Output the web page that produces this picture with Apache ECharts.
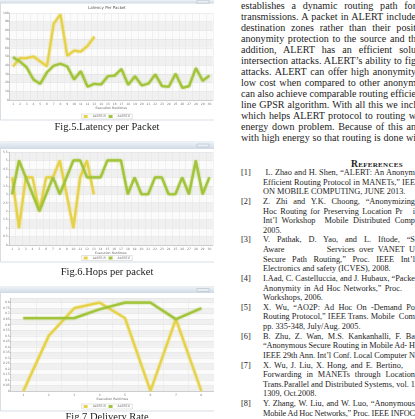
<!DOCTYPE html>
<html>
<head>
<meta charset="utf-8">
<script src="https://cdn.jsdelivr.net/npm/echarts@6/dist/echarts.min.js"></script>
<style>
  body { margin: 0; width: 415px; height: 419px; overflow: hidden; position: relative; background: #fff;
         font-family: 'Liberation Serif', 'DejaVu Serif', serif; color: #1c1c1c; }
  #figs { position: absolute; left: 0; top: 0; width: 214px; height: 419px; }
  .para { position: absolute; left: 241px; top: 0; width: 200px; font-size: 10.1px; line-height: 11px; }
  .para div { height: 11px; white-space: nowrap; }
  .head { position: absolute; left: 351px; top: 158px; width: 75px; font-size: 9.6px; font-weight: bold;
          font-variant: small-caps; letter-spacing: 0.3px; }
  .refs { position: absolute; left: 241px; top: 168px; width: 200px; font-size: 8.3px; line-height: 9.64px; }
  .refs div { position: relative; height: 9.64px; }
  .refs .n { position: absolute; left: 0; top: 0; }
  .refs .t { position: absolute; left: 22px; top: 0; white-space: nowrap; }
  span.fit { display: inline-block; white-space: nowrap; }
</style>
</head>
<body>
<div id="figs"></div>
<div class="para" id="para"></div>
<div class="head">References</div>
<div class="refs" id="refs"></div>
<script>
// run numbers on the x axes
const runsA = ['1','2','3','4','5','6','7','8','9','10','11','12','13','14','15','16','17','18','19','20','21','22','23','24','25','26','27','28','29','30'];
const runsB = ['1','2','3','4','5','6','7','8'];

// Fig.5 latency per packet
const latencyR = [38.6, 48.1, 48.1, 50, 44.3, 38.6, 87.9, 98.5, 50.8, 56.8, 55.7, 62.1, 72.7];
const latencyE = [49.2, 44.3, 37.5, 23.5, 18.6, 31.8, 39.4, 41.7, 38.6, 23.5, 33, 15.2, 18.6, 17.8, 27.3,
                  28, 35.6, 17.4, 27.3, 16.7, 18.9, 29.5, 15.9, 15.2, 30.3, 14, 15.9, 36.7, 22, 28];

// Fig.6 hops per packet
const hopsR = [4, 1, 4, 4, 2, 4, 4, 5, 3, 1, 4, 5, 3];
const hopsE = [3, 5, 4, 3, 2, 3, 4, 3, 4, 5, 5, 4, 4, 4, 5, 5, 5, 3, 4, 3, 3, 4, 4, 3, 3, 4, 3, 5, 3, 4];

// Fig.7 delivery rate
const deliveryR = [0, 0.5, 0.75, 0.8, 0.66, 0, 0.65, 0];
const deliveryE = [0.66, 0.66, 0.66, 0.74, 0.8, 0.8, 0.65, 0.75];

const seriesNames = ['ALERT-R', 'ALERT-E'];
const titles = ['Latency Per Packet'];
const captions = ['Fig.5.Latency per Packet', 'Fig.6.Hops per packet', 'Fig.7 Delivery Rate'];

// visible part of each text line (column is cut at the page edge)
const paraLines = [
  'establishes a dynamic routing path for',
  'transmissions. A packet in ALERT include',
  'destination zones rather than their posit',
  'anonymity protection to the source and th',
  'addition, ALERT has an efficient solu',
  'intersection attacks. ALERT\u2019s ability to fig',
  'attacks. ALERT can offer high anonymity',
  'low cost when compared to other anonym',
  'can also achieve comparable routing efficie',
  'line GPSR algorithm. With all this we incl',
  'which helps ALERT protocol to routing w',
  'energy down problem. Because of this an',
  'with high energy so that routing is done wi'
];
// [number, text, width to stretch to (0 = natural)]
const refLines = [
  ['[1]', '\u00a0L. Zhao and H. Shen, \u201cALERT: An Anonym', 152],
  ['', 'Efficient Routing Protocol in MANETs,\u201d IEE', 152],
  ['', 'ON MOBILE COMPUTING, JUNE 2013.', 0],
  ['[2]', 'Z. Zhi and Y.K. Choong, \u201cAnonymizing', 152],
  ['', 'Hoc Routing for Preserving Location Pr\u00a0\u00a0 i', 152],
  ['', 'Int\u2019l Workshop\u00a0 Mobile Distributed Comp', 152],
  ['', '2005.', 0],
  ['[3]', 'V. Pathak, D. Yao, and L. Iftode, \u201cS', 152],
  ['', 'Aware\u00a0\u00a0\u00a0\u00a0\u00a0\u00a0\u00a0\u00a0\u00a0 Services over VANET U', 152],
  ['', 'Secure Path Routing,\u201d Proc. IEEE Int\u2019l', 152],
  ['', 'Electronics and safety (ICVES), 2008.', 0],
  ['[4]', 'I.Aad, C. Castelluccia, and J. Hubaux, \u201cPacke', 152],
  ['', 'Anonymity in Ad Hoc Networks,\u201d Proc.', 139],
  ['', 'Workshops, 2006.', 0],
  ['[5]', 'X. Wu, \u201cAO2P: Ad Hoc On -Demand Po', 152],
  ['', 'Routing Protocol,\u201d IEEE Trans. Mobile\u00a0 Com', 152],
  ['', 'pp. 335-348, July/Aug. 2005.', 0],
  ['[6]', 'B. Zhu, Z. Wan, M.S. Kankanhalli, F. Ba', 152],
  ['', '\u201cAnonymous Secure Routing in Mobile Ad- H', 152],
  ['', 'IEEE 29th Ann. Int\u2019l Conf. Local Computer N', 152],
  ['[7]', 'X. Wu, J. Liu, X. Hong, and E. Bertino,', 140],
  ['', 'Forwarding in MANETs through Location', 152],
  ['', 'Trans.Parallel and Distributed Systems, vol. 1', 152],
  ['', '1309, Oct.2008.', 0],
  ['[8]', 'Y. Zhang, W. Liu, and W. Luo, \u201cAnonymous', 152],
  ['', 'Mobile Ad Hoc Networks,\u201d Proc. IEEE INFOC', 152]
];

document.getElementById('para').innerHTML =
  paraLines.map(t => '<div><span class="fit" data-w="175">' + t + '</span></div>').join('');
document.getElementById('refs').innerHTML = refLines.map(r =>
  '<div><span class="n">' + r[0] + '</span><span class="t"><span class="fit" data-w="' + r[2] + '">' +
  r[1] + '</span></span></div>').join('');

// spread (or tighten) each justified line to the width it has in the scan
document.querySelectorAll('span.fit').forEach(function (s) {
  const target = +s.getAttribute('data-w');
  if (!target) return;
  const text = s.textContent;
  const gaps = (text.match(/[ \u00a0]/g) || []).length;
  const extra = target - s.getBoundingClientRect().width;
  if (extra >= 0 && gaps) {
    s.style.wordSpacing = (extra / gaps) + 'px';
  } else if (extra < 0) {
    s.style.letterSpacing = (extra / text.length) + 'px';
  }
});

const YEL = '#e6d24a';
const GRN = '#a2c43a';
const tiny = { fontSize: 3, color: '#777', fontFamily: 'DejaVu Sans' };

function xAxis(i, data) {
  return {
    type: 'category', gridIndex: i, data: data, boundaryGap: true,
    name: 'Execution Runtimes', nameLocation: 'middle', nameGap: 7,
    nameTextStyle: { fontSize: 3.2, color: '#666', fontFamily: 'DejaVu Sans' },
    axisLine: { lineStyle: { color: '#aaa', width: 0.5 } },
    axisTick: { alignWithLabel: true, length: 1.5, lineStyle: { color: '#aaa', width: 0.5 } },
    axisLabel: Object.assign({ margin: 2.5, interval: 0 }, tiny),
    splitLine: { show: true, interval: 0, lineStyle: { color: '#e4e4e4', width: 0.5 } }
  };
}
function yAxis(i, max, interval) {
  return {
    type: 'value', gridIndex: i, min: 0, max: max, interval: interval,
    axisLine: { show: true, lineStyle: { color: '#aaa', width: 0.5 } },
    axisTick: { show: true, length: 1, lineStyle: { color: '#aaa', width: 0.5 } },
    axisLabel: Object.assign({ margin: 1, showMaxLabel: i !== 2 }, tiny),
    splitLine: { lineStyle: { color: '#dedede', width: 0.5 } },
    splitArea: { show: true, areaStyle: { color: ['#f0f0f0', '#fbfbfb'] } }
  };
}
function line(name, i, data, color) {
  return {
    type: 'line', name: name, xAxisIndex: i, yAxisIndex: i, data: data,
    showSymbol: false, symbol: 'none', smooth: false,
    lineStyle: { color: color, width: 2.2, shadowColor: color, shadowBlur: 2 },
    itemStyle: { color: color }
  };
}
function legend(top) {
  return {
    top: top, left: 'center', data: seriesNames, icon: 'rect', itemWidth: 4, itemHeight: 3,
    itemGap: 3, padding: [1, 2], borderColor: '#c8c8c8', borderWidth: 0.5,
    textStyle: { fontSize: 3.2, color: '#666', fontFamily: 'DejaVu Sans' }
  };
}
function bar(y, h) {
  return [
    { type: 'rect', shape: { x: 0, y: y, width: 214, height: h },
      style: { fill: new echarts.graphic.LinearGradient(0, 0, 0, 1, [
        { offset: 0, color: '#eef2f7' }, { offset: 1, color: '#cfd9e4' }]) } },
    { type: 'rect', shape: { x: 197, y: y + h / 2 - 1.5, width: 12, height: 3 },
      style: { fill: '#e8edf2', stroke: '#9aa8b6', lineWidth: 0.4 } }
  ];
}
function caption(text, y) {
  return { type: 'text', style: { text: text, x: 107, y: y, align: 'center', verticalAlign: 'middle',
    fontSize: 10.5, fontFamily: 'Liberation Serif', fill: '#1c1c1c' } };
}
function frame(y, h) {
  return { type: 'rect', shape: { x: 0.5, y: y, width: 220, height: h },
    style: { fill: 'none', stroke: '#cdd5de', lineWidth: 0.8 } };
}

const chart = echarts.init(document.getElementById('figs'));
chart.setOption({
  animation: false,
  backgroundColor: '#fff',
  grid: [
    { left: 3.6, top: 13, width: 223, height: 87 },
    { left: 3.6, top: 152, width: 223, height: 93 },
    { left: 6.75, top: 298, width: 212, height: 93 }
  ],
  xAxis: [xAxis(0, runsA), xAxis(1, runsA), xAxis(2, runsB)],
  yAxis: [yAxis(0, 100, 10), yAxis(1, 5.5, 0.5), yAxis(2, 0.842, 0.05)],
  legend: [legend(114), legend(255.5), legend(404)],
  series: [
    line(seriesNames[0], 0, latencyR, YEL), line(seriesNames[1], 0, latencyE, GRN),
    line(seriesNames[0], 1, hopsR, YEL), line(seriesNames[1], 1, hopsE, GRN),
    line(seriesNames[0], 2, deliveryR, YEL), line(seriesNames[1], 2, deliveryE, GRN)
  ],
  graphic: [].concat(
    frame(-1, 121), frame(142, 120), frame(287, 124),
    bar(0, 3.5), bar(142, 7), bar(287, 6),
    [{ type: 'text', style: { text: titles[0], x: 107, y: 8, align: 'center', verticalAlign: 'middle',
        fontSize: 4, fill: '#555', fontFamily: 'DejaVu Sans' } },
     caption(captions[0], 127), caption(captions[1], 272), caption(captions[2], 417)]
  )
});
</script>
</body>
</html>
